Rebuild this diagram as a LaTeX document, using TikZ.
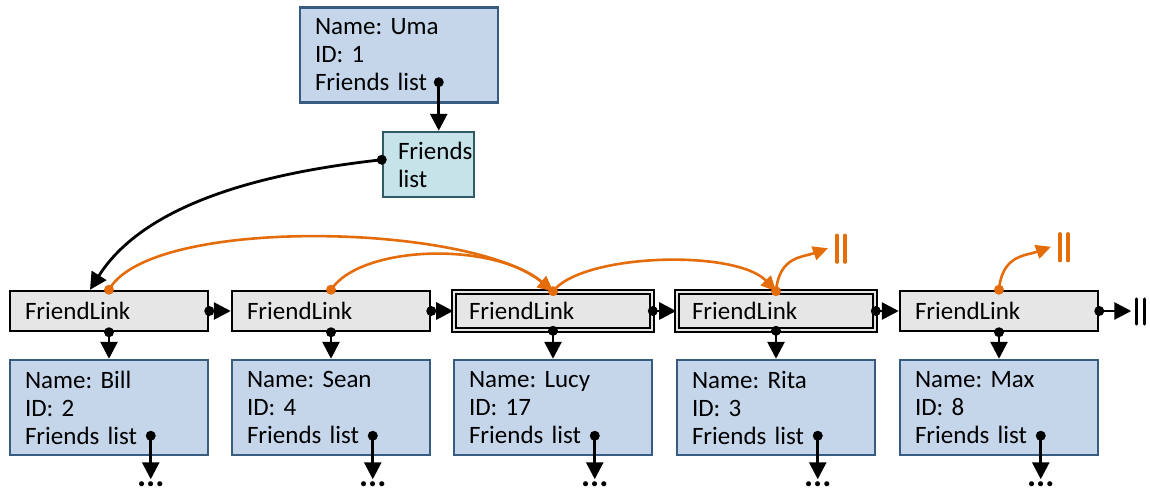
\documentclass[tikz,border=0pt]{standalone}
\usepackage{fontspec}
\setmainfont{Carlito}
\usetikzlibrary{arrows.meta,calc}
\definecolor{personfill}{HTML}{C5D5EA}
\definecolor{personline}{HTML}{385B80}
\definecolor{listfill}{HTML}{C6E3EA}
\definecolor{listline}{HTML}{2F5B64}
\definecolor{linkfill}{HTML}{E6E6E6}
\definecolor{nextorange}{HTML}{E46C0A}
\frenchspacing
\begin{document}
\begin{tikzpicture}[x=1pt,y=-1pt,
  every node/.style={font=\fontsize{25}{28}\selectfont},
  person/.style={rectangle, draw=personline, fill=personfill, line width=2.5pt,
    minimum width=198pt, minimum height=95pt, text width=168pt,
    inner xsep=15pt, inner ysep=0pt, align=left},
  listbox/.style={rectangle, draw=listline, fill=listfill, line width=2.5pt,
    minimum width=91pt, minimum height=65pt, text width=61pt,
    inner xsep=15pt, inner ysep=0pt, align=left},
  link/.style={rectangle, draw=black, fill=linkfill, line width=2.5pt,
    minimum width=198pt, minimum height=40pt, text width=168pt,
    inner xsep=15pt, inner ysep=0pt, align=left},
  linkdbl/.style={link, line width=1.6pt, double=linkfill, double distance=2.4pt,
    minimum width=196pt, minimum height=38pt},
  more/.style={font=\fontsize{34}{36}\selectfont\bfseries, inner sep=0pt, anchor=north},
  ptr/.style={draw=black, line width=2.8pt, -{Triangle[length=17pt,width=17pt]}},
  nxt/.style={draw=nextorange, line width=2.6pt, -{Triangle[length=15pt,width=14pt]}},
  blackdot/.style={fill=black},
  orangedot/.style={fill=nextorange},
  nilbar/.style={line width=3.2pt, line cap=round}
]
\useasboundingbox (0,0) rectangle (1150,488);

% the owner record and its list head
\node[person] (uma) at (399,55) {Name: Uma\\ID: 1\\Friends list};
\node[listbox] (flist) at (428.5,164.5) {Friends\\list};
\coordinate (umadot) at ($(uma.north west)+(140,76)$);
\coordinate (listdot) at ($(flist.north west)+(0,29)$);
\draw[ptr] (umadot) -- (umadot |- flist.north);
\fill[blackdot] (umadot) circle (5pt);

% the chain of links and the records they point to
\foreach \i/\x/\name/\id/\st in {1/109/Bill/2/link, 2/331/Sean/4/link,
    3/553/Lucy/17/linkdbl, 4/776/Rita/3/linkdbl, 5/999/Max/8/link} {
  \node[\st] (fl\i) at (\x,311) {FriendLink};
  \node[person] (p\i) at (\x,407.5) {Name: \name\\ID: \id\\Friends list};
  \coordinate (pd\i) at ($(p\i.north west)+(142,77)$);
  \coordinate (pe\i) at ($(p\i.south west)+(142,23)$);
  \node[more] (m\i) at ($(pe\i)+(0,2)$) {...};
  \draw[ptr] (pd\i) -- (pe\i);
  \fill[blackdot] (pd\i) circle (5pt);
  \draw[ptr] (fl\i.south) -- (p\i.north);
  \fill[blackdot] (fl\i.south) circle (5pt);
}
\foreach \i/\j in {1/2,2/3,3/4,4/5} {
  \draw[ptr] (fl\i.east) -- (fl\j.west);
  \fill[blackdot] (fl\i.east) circle (5pt);
}

% end of the main chain
\coordinate (nilA) at ($(fl5.east)+(32,0)$);
\draw[ptr] (fl5.east) -- (nilA);
\fill[blackdot] (fl5.east) circle (5pt);
\draw[nilbar] ($(nilA)+(5,-12)$) -- ++(0,25);
\draw[nilbar] ($(nilA)+(13,-12)$) -- ++(0,25);

% list head to the first link
\coordinate (firstin) at ($(fl1.north)+(-19,0)$);
\draw[ptr] (listdot) .. controls (290,170) and (150,195) .. (firstin);
\fill[blackdot] (listdot) circle (5pt);

% secondary links
\draw[nxt] (fl1.north) .. controls +(41,-74) and +(-83,-68) .. (fl3.north);
\draw[nxt] (fl2.north) .. controls +(30,-45) and +(-60,-50) .. (fl3.north);
\draw[nxt] (fl3.north) .. controls +(30,-38) and +(-40,-42) .. (fl4.north);
\coordinate (nilB) at ($(fl4.north)+(52,-43)$);
\coordinate (nilC) at ($(fl5.north)+(52,-43)$);
\draw[nxt] (fl4.north) .. controls +(3,-35) and +(-25,9) .. (nilB);
\draw[nxt] (fl5.north) .. controls +(3,-35) and +(-25,9) .. (nilC);
\foreach \n in {nilB,nilC} {
  \draw[nilbar, draw=nextorange] ($(\n)+(9,-13)$) -- ++(0,27);
  \draw[nilbar, draw=nextorange] ($(\n)+(17,-13)$) -- ++(0,27);
}
\foreach \i in {1,...,5} {
  \fill[orangedot] (fl\i.north) circle (5pt);
}
\end{tikzpicture}
\end{document}
